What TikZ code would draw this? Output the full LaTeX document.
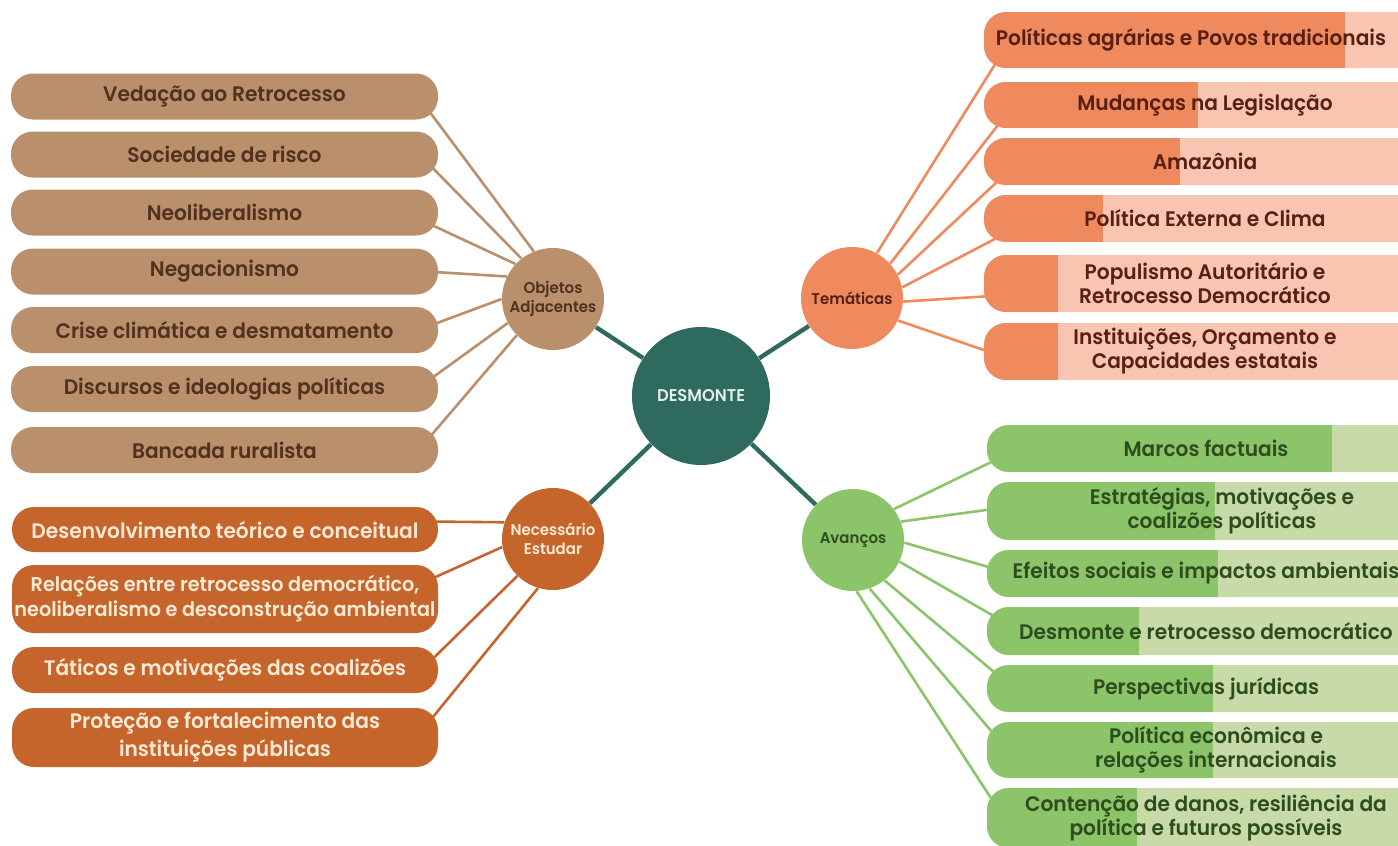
\documentclass[tikz,border=0pt]{standalone}
\usepackage{fontspec}
\setmainfont{Poppins}[UprightFont=* SemiBold, FakeStretch=0.96]
\usetikzlibrary{backgrounds}
\definecolor{brn}{HTML}{B98F6C}
\definecolor{brntxt}{HTML}{50321E}
\definecolor{org}{HTML}{C5652B}
\definecolor{orgtxt}{HTML}{FBE9D5}
\definecolor{sal}{HTML}{EF8A5E}
\definecolor{sallt}{HTML}{F8C6B0}
\definecolor{saltxt}{HTML}{5A1F12}
\definecolor{grn}{HTML}{8CC46A}
\definecolor{grnlt}{HTML}{C9DAA9}
\definecolor{grntxt}{HTML}{2E4D1F}
\definecolor{teal}{HTML}{2E6A5D}
\definecolor{tealtxt}{HTML}{E3EEE8}
\begin{document}
\begin{tikzpicture}[x=0.5pt,y=-0.5pt,
  box/.style={rectangle, rounded corners=11pt, inner sep=0pt, align=center,
    font=\fontsize{10.5}{12}\selectfont},
  bbox/.style={box, fill=brn, text=brntxt, minimum width=213.5pt},
  obox/.style={box, fill=org, text=orgtxt, minimum width=213pt},
  tbox/.style={box, fill=sallt, text=saltxt, minimum width=221pt},
  gbox/.style={box, fill=grnlt, text=grntxt, minimum width=219pt},
  split/.style 2 args={path picture={\fill[#1, sharp corners] (path picture bounding box.south west) rectangle ([xshift=#2*0.5pt]path picture bounding box.north west);}},
  hub/.style={circle, inner sep=0pt, minimum size=51pt, align=center,
    font=\fontsize{7.8}{9.3}\selectfont},
  blink/.style={brn, line width=1.3pt},
  olink/.style={org, line width=1.3pt},
  tlink/.style={sal, line width=1.3pt},
  glink/.style={grn, line width=1.3pt},
  clink/.style={teal, line width=2.2pt}]
\useasboundingbox (0,0) rectangle (1398,846);

% hubs
\node[hub, minimum size=69pt, fill=teal, text=tealtxt, font=\fontsize{8.5}{10}\selectfont] (ds) at (701,396) {DESMONTE};
\node[hub, fill=brn, text=brntxt] (oa) at (553,299) {Objetos\\Adjacentes};
\node[hub, fill=sal, text=saltxt] (te) at (852,298) {Temáticas};
\node[hub, fill=org, text=orgtxt] (ne) at (553,539) {Necessário\\Estudar};
\node[hub, fill=grn, text=grntxt] (av) at (853,540) {Avanços};

% brown boxes
\node[bbox, minimum height=23pt] (o1) at (224.5,96.5) {Vedação ao Retrocesso};
\node[bbox, minimum height=23pt] (o2) at (224.5,154.5) {Sociedade de risco};
\node[bbox, minimum height=23pt] (o3) at (224.5,212.5) {Neoliberalismo};
\node[bbox, minimum height=23pt] (o4) at (224.5,271.5) {Negacionismo};
\node[bbox, minimum height=23pt] (o5) at (224.5,330) {Crise climática e desmatamento};
\node[bbox, minimum height=23pt] (o6) at (224.5,389) {Discursos e ideologias políticas};
\node[bbox, minimum height=23pt] (o7) at (224.5,450) {Bancada ruralista};

% orange boxes
\node[obox, minimum height=22.5pt] (n1) at (225,529.5) {Desenvolvimento teórico e conceitual};
\node[obox, minimum height=34pt, font=\fontsize{10}{12.5}\selectfont] (n2) at (225,599) {Relações entre retrocesso democrático,\\neoliberalismo e desconstrução ambiental};
\node[obox, minimum height=23pt] (n3) at (225,670) {Táticos e motivações das coalizões};
\node[obox, minimum height=29.5pt, font=\fontsize{10.5}{14}\selectfont] (n4) at (225,737.5) {Proteção e fortalecimento das\\instituições públicas};

% salmon boxes
\node[tbox, minimum height=28pt, split={sal}{361}] (t1) at (1205,40) {};
\node[box, text=saltxt] (t1l) at (1191,40) {Políticas agrárias e Povos tradicionais};
\node[tbox, minimum height=23pt, split={sal}{214}] (t2) at (1205,105) {Mudanças na Legislação};
\node[tbox, minimum height=23.5pt, split={sal}{196}] (t3) at (1205,161.5) {Amazônia};
\node[tbox, minimum height=23.5pt, split={sal}{119}] (t4) at (1205,218.5) {Política Externa e Clima};
\node[tbox, minimum height=28.5pt, split={sal}{74}] (t5) at (1205,283.5) {Populismo Autoritário e\\Retrocesso Democrático};
\node[tbox, minimum height=28.5pt, split={sal}{74}] (t6) at (1205,351.5) {Instituições, Orçamento e\\Capacidades estatais};

% green boxes
\node[gbox, minimum height=23.5pt, split={grn}{345}] (g1) at (1206,448.5) {Marcos factuais};
\node[gbox, minimum height=29pt, split={grn}{228}] (g2) at (1206,511) {\hspace*{16pt}Estratégias, motivações e\\\hspace*{16pt}coalizões políticas};
\node[gbox, minimum height=23.5pt, split={grn}{231}] (g3) at (1206,573.5) {Efeitos sociais e impactos ambientais};
\node[gbox, minimum height=24pt, split={grn}{152}] (g4) at (1206,631) {Desmonte e retrocesso democrático};
\node[gbox, minimum height=23.5pt, split={grn}{226}] (g5) at (1206,688.5) {Perspectivas jurídicas};
\node[gbox, minimum height=28pt, split={grn}{226}] (g6) at (1206,750) {\hspace*{10pt}Política econômica e\\\hspace*{10pt}relações internacionais};
\node[gbox, minimum height=30pt, split={grn}{150}] (g7) at (1206,818) {Contenção de danos, resiliência da\\política e futuros possíveis};

\begin{pgfonlayer}{background}
  \draw[clink] (ds) -- (oa);
  \draw[clink] (ds) -- (te);
  \draw[clink] (ds) -- (ne);
  \draw[clink] (ds) -- (av);
  % brown
  \draw[blink] (oa.112) -- ([xshift=-6pt,yshift=-5.5pt]o1.east);
  \draw[blink] (oa.128) -- ([xshift=-6pt,yshift=-3.5pt]o2.east);
  \draw[blink] (oa.137) -- ([xshift=-6pt,yshift=-5pt]o3.east);
  \draw[blink] (oa.154) -- ([xshift=-6pt]o4.east);
  \draw[blink] (oa.180) -- ([xshift=-6pt,yshift=1.5pt]o5.east);
  \draw[blink] (oa.208) -- ([xshift=-6pt,yshift=3.5pt]o6.east);
  \draw[blink] (oa.225) -- ([xshift=-6pt,yshift=4.5pt]o7.east);
  % orange
  \draw[olink] (ne.161) -- ([xshift=-7pt,yshift=4pt]n1.east);
  \draw[olink] (ne.189) -- ([xshift=-7pt,yshift=8.5pt]n2.east);
  \draw[olink] (ne.226) -- ([xshift=-7pt,yshift=1.5pt]n3.east);
  \draw[olink] (ne.253) -- ([xshift=-7pt,yshift=5pt]n4.east);
  % salmon
  \draw[tlink] (te.61) -- ([xshift=8pt,yshift=-8.5pt]t1.west);
  \draw[tlink] (te.42) -- ([xshift=8pt,yshift=-9pt]t2.west);
  \draw[tlink] (te.27) -- ([xshift=8pt,yshift=-9pt]t3.west);
  \draw[tlink] (te.12) -- ([xshift=8pt,yshift=-9pt]t4.west);
  \draw[tlink] (te.-4) -- ([xshift=8pt,yshift=-6pt]t5.west);
  \draw[tlink] (te.-26) -- ([xshift=8pt,yshift=-2pt]t6.west);
  % green
  \draw[glink] (av.37) -- ([xshift=7pt,yshift=-4.5pt]g1.west);
  \draw[glink] (av.21) -- ([xshift=7pt,yshift=1.5pt]g2.west);
  \draw[glink] (av.-3) -- ([xshift=7pt,yshift=1.5pt]g3.west);
  \draw[glink] (av.-25) -- ([xshift=7pt,yshift=5.5pt]g4.west);
  \draw[glink] (av.-52) -- ([xshift=7pt,yshift=5.5pt]g5.west);
  \draw[glink] (av.-71) -- ([xshift=7pt,yshift=4pt]g6.west);
  \draw[glink] (av.-86) -- ([xshift=7pt,yshift=2.5pt]g7.west);
\end{pgfonlayer}
\end{tikzpicture}
\end{document}
